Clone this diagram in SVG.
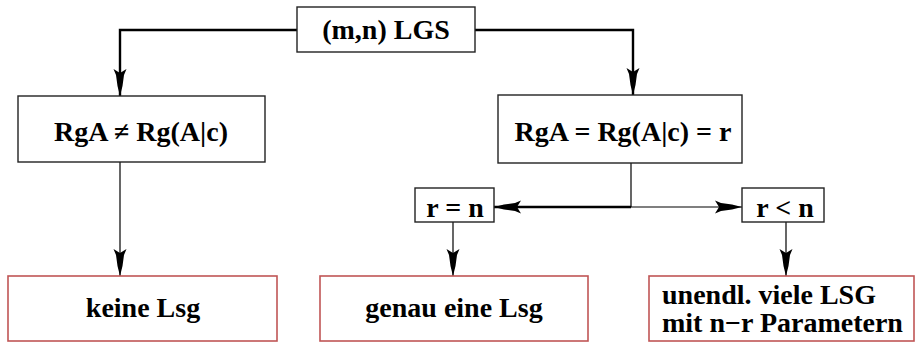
<svg xmlns="http://www.w3.org/2000/svg" width="915" height="343" viewBox="0 0 915 343">
<style>
  .box { fill: #fff; stroke: #222; stroke-width: 1.4; }
  .res { fill: #fff; stroke: #c05555; stroke-width: 1.6; }
  .t { font-family: "Liberation Serif", "Times New Roman", serif; font-weight: bold; font-size: 28px; fill: #000; }
  .thick { fill: none; stroke: #000; stroke-width: 2.4; }
  .thin { fill: none; stroke: #000; stroke-width: 1.2; }
</style>
<defs>
  <marker id="arr" viewBox="-30 -8 32 16" refX="0" refY="0" markerWidth="32" markerHeight="16" markerUnits="userSpaceOnUse" orient="auto">
    <path d="M0,0 L-10,-2.5 L-21,-4 L-27,-6.5 L-23,0 L-27,6.5 L-21,4 L-10,2.5 Z" fill="#000"/>
  </marker>
</defs>
<g id="connectors">
  <path class="thick" d="M297,30 H120 V96" marker-end="url(#arr)"/>
  <path class="thick" d="M475,30 H633 V95" marker-end="url(#arr)"/>
  <path class="thin" d="M120,162 V276" marker-end="url(#arr)"/>
  <path class="thin" d="M631,163 V207"/>
  <path class="thick" d="M631,207 H494" marker-end="url(#arr)"/>
  <path class="thin" d="M631,207 H742" marker-end="url(#arr)"/>
  <path class="thin" d="M453,222 V276" marker-end="url(#arr)"/>
  <path class="thin" d="M786,222 V276" marker-end="url(#arr)"/>
</g>
<g id="lgs">
  <rect class="box" x="297" y="7" width="178" height="45"/>
  <text class="t" x="386" y="39" text-anchor="middle">(m,n) LGS</text>
</g>
<g id="rang-ungleich">
  <rect class="box" x="18" y="96" width="247" height="66"/>
  <text class="t" x="141" y="141" text-anchor="middle">RgA ≠ Rg(A|c)</text>
</g>
<g id="rang-gleich">
  <rect class="box" x="498" y="95" width="244" height="68"/>
  <text class="t" x="623" y="141" text-anchor="middle">RgA = Rg(A|c) = r</text>
</g>
<g id="r-gleich-n">
  <rect class="box" x="415" y="188" width="79" height="34"/>
  <text class="t" x="455" y="217" text-anchor="middle">r = n</text>
</g>
<g id="r-kleiner-n">
  <rect class="box" x="742" y="188" width="82" height="34"/>
  <text class="t" x="785" y="217" text-anchor="middle">r &lt; n</text>
</g>
<g id="keine-lsg">
  <rect class="res" x="8" y="276" width="269" height="65"/>
  <text class="t" x="143" y="317" text-anchor="middle">keine Lsg</text>
</g>
<g id="genau-eine-lsg">
  <rect class="res" x="320" y="276" width="268" height="65"/>
  <text class="t" x="454" y="317" text-anchor="middle">genau eine Lsg</text>
</g>
<g id="unendlich-viele">
  <rect class="res" x="649" y="276" width="265" height="65"/>
  <text class="t" x="662" y="304">unendl. viele LSG</text>
  <text class="t" x="662" y="332">mit n−r Parametern</text>
</g>
</svg>
